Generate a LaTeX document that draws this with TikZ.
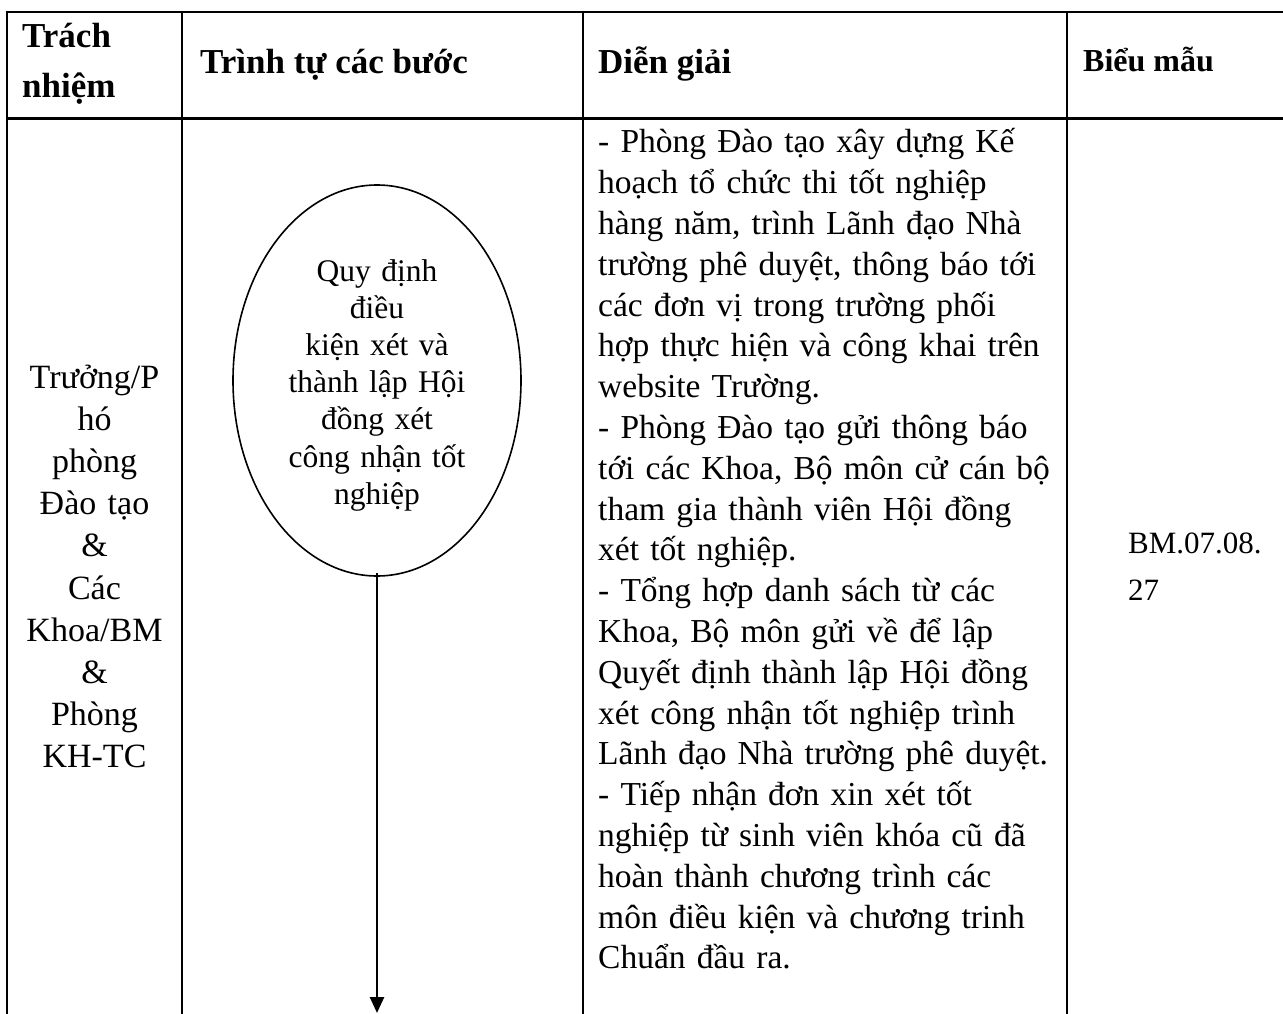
\documentclass[tikz,border=0pt]{standalone}
\usepackage{fontspec}
\setmainfont{Liberation Serif}
\usetikzlibrary{shapes.geometric,arrows.meta}
\tikzset{
  grid/.style={line width=2.6pt},
  hdr/.style={inner sep=0pt,anchor=base west,align=left,font={\fontsize{35}{50}\selectfont\bfseries}},
  bodytxt/.style={inner sep=0pt,anchor=base west,align=left,font={\fontsize{33.5}{40.8}\selectfont}},
  flowell/.style={draw,ellipse,line width=1.6pt,inner sep=0pt,minimum width=288pt,minimum height=391pt},
  elltxt/.style={inner sep=0pt,anchor=base,text width=200pt,align=center,font={\fontsize{31.5}{37.2}\selectfont}},
  flowarrow/.style={line width=2.6pt,-{Triangle[length=16pt,width=14pt]}}
}
\begin{document}
\begin{tikzpicture}[x=1pt,y=-1pt]
\useasboundingbox (0,0) rectangle (1283,1014);
% table grid
\draw[grid] (7,12) -- (1283,12);
\draw[grid] (7,118.5) -- (1283,118.5);
\draw[grid] (7,10.7) -- (7,1014);
\draw[grid] (182,10.7) -- (182,1014);
\draw[grid] (583,10.7) -- (583,1014);
\draw[grid] (1067,10.7) -- (1067,1014);
% header
\node[hdr,text width=150pt] (h1) at (22,48) {Trách\\nhiệm};
\node[hdr] (h2) at (200,74) {Trình tự các bước};
\node[hdr] (h3) at (598,74) {Diễn giải};
\node[hdr,font={\fontsize{32}{40}\selectfont\bfseries}] (h4) at (1083,72) {Biểu mẫu};
% responsibility column
\node[inner sep=0pt,anchor=base,text width=175pt,align=center,font={\fontsize{34}{42.2}\selectfont}] (resp) at (94.5,388)
  {Trưởng/P\\hó\\phòng\\Đào tạo\\\&\\Các\\Khoa/BM\\\&\\Phòng\\KH-TC};
% flow step
\node[flowell] (ell) at (377,380.5) {};
\node[elltxt] (elltext) at (377,281) {Quy định\\điều\\kiện xét và\\thành lập Hội\\đồng xét\\công nhận tốt\\nghiệp};
\coordinate (arrend) at (377,1013);
\draw[flowarrow] ([yshift=4pt]ell.south) -- (arrend);
% description
\node[bodytxt,text width=480pt] (desc) at (598,153) {%
- Phòng Đào tạo xây dựng Kế\\
hoạch tổ chức thi tốt nghiệp\\
hàng năm, trình Lãnh đạo Nhà\\
trường phê duyệt, thông báo tới\\
các đơn vị trong trường phối\\
hợp thực hiện và công khai trên\\
website Trường.\\
- Phòng Đào tạo gửi thông báo\\
tới các Khoa, Bộ môn cử cán bộ\\
tham gia thành viên Hội đồng\\
xét tốt nghiệp.\\
- Tổng hợp danh sách từ các\\
Khoa, Bộ môn gửi về để lập\\
Quyết định thành lập Hội đồng\\
xét công nhận tốt nghiệp trình\\
Lãnh đạo Nhà trường phê duyệt.\\
- Tiếp nhận đơn xin xét tốt\\
nghiệp từ sinh viên khóa cũ đã\\
hoàn thành chương trình các\\
môn điều kiện và chương trinh\\
Chuẩn đầu ra.};
% form column
\node[inner sep=0pt,anchor=base west,text width=150pt,align=left,font={\fontsize{31}{47}\selectfont}] (bm) at (1128,553) {BM.07.08.\\27};
\end{tikzpicture}
\end{document}
